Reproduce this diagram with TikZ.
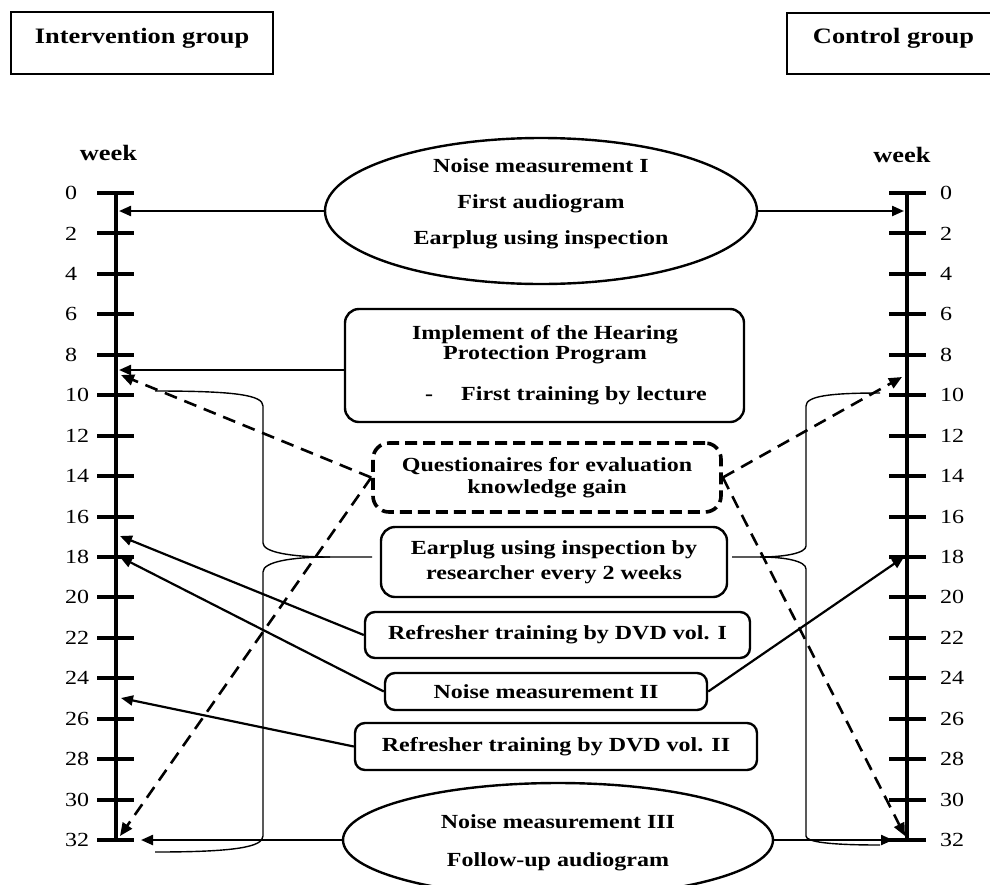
\documentclass[tikz,border=0pt]{standalone}
\usepackage{fontspec}
\setmainfont{Liberation Serif}[FakeStretch=1.2]
\usetikzlibrary{arrows.meta,shapes.geometric}
\begin{document}
\begin{tikzpicture}[x=1pt,y=-1pt,
  txt/.style={font=\fontsize{20}{22}\selectfont\bfseries, inner sep=0pt, align=center},
  bigtxt/.style={font=\fontsize{22}{24}\selectfont\bfseries, inner sep=0pt, align=center},
  num/.style={font=\fontsize{20}{22}\selectfont, inner sep=0pt, anchor=west},
  axisline/.style={line width=4.5pt},
  tickline/.style={line width=4pt},
  rbox/.style={draw, line width=2.4pt, rounded corners=14pt, inner sep=0pt},
  qbox/.style={draw, line width=3.6pt, rounded corners=16pt, dash pattern=on 12pt off 6pt, inner sep=0pt},
  gbox/.style={draw, line width=2.4pt, inner sep=0pt},
  oval/.style={draw, ellipse, line width=2.4pt, inner sep=0pt},
  arr/.style={line width=2.2pt, -{Triangle[length=12pt,width=10pt]}},
  darr/.style={line width=2.6pt, dash pattern=on 13pt off 8pt, -{Triangle[length=13pt,width=11pt]}},
  brace/.style={line width=1.4pt},
]
\useasboundingbox (0,0) rectangle (990,884);

% group boxes
\node[gbox, bigtxt, minimum width=262, minimum height=62, text height=15pt, text depth=15pt] (igb) at (142,43) {Intervention group};
\node[gbox, bigtxt, minimum width=213, minimum height=61, text height=15pt, text depth=15pt] (cgb) at (893.5,43.5) {Control group};

% week labels
\node[bigtxt] (wkL) at (108.5,153) {week};
\node[bigtxt] (wkR) at (902,155) {week};

% axes
\coordinate (Ltop) at (116,193); \coordinate (Lbot) at (116,840);
\coordinate (Rtop) at (907,193); \coordinate (Rbot) at (907,840);
\draw[axisline] (Ltop) -- (Lbot);
\draw[axisline] (Rtop) -- (Rbot);
\foreach \w in {0,2,...,32}{
  \draw[tickline] (97,{193+20.22*\w}) -- (134,{193+20.22*\w});
  \node[num] (ln\w) at (65,{193+20.22*\w}) {\w};
  \draw[tickline] (889,{193+20.22*\w}) -- (926,{193+20.22*\w});
  \node[num] (rn\w) at (940,{193+20.22*\w}) {\w};
}

% braces
\coordinate (lbtop) at (155,391);
\coordinate (lbtip) at (330,557);
\coordinate (lbend) at (372,557);
\coordinate (lbbot) at (155,852);
\draw[brace] (lbtop) .. controls (235,391) and (263,395) .. (263,406) -- (263,543)
  .. controls (263,552) and (290,557) .. (lbtip) -- (lbend);
\draw[brace] (lbtip) .. controls (290,557) and (263,562) .. (263,572) -- (263,836)
  .. controls (263,847) and (235,852) .. (lbbot);
\coordinate (rbtop) at (880,393);
\coordinate (rbtip) at (760,557);
\coordinate (rbend) at (732,557);
\coordinate (rbbot) at (880,845);
\draw[brace] (rbtop) .. controls (830,393) and (806,396) .. (806,406) -- (806,546)
  .. controls (806,553) and (785,557) .. (rbtip) -- (rbend);
\draw[brace] (rbtip) .. controls (785,557) and (806,561) .. (806,569) -- (806,836)
  .. controls (806,842) and (830,845) .. (rbbot);

% nodes
\node[oval, minimum width=432, minimum height=146] (e1) at (541,211) {};
\node[txt, font=\fontsize{20}{36}\selectfont\bfseries] (e1t) at (541,204) {Noise measurement I\\First audiogram\\Earplug using inspection};

\node[rbox, minimum width=399, minimum height=113] (imp) at (544.5,365.5) {};
\node[txt, font=\fontsize{20}{20}\selectfont\bfseries] (impt) at (545,345) {Implement of the Hearing\\Protection Program};
\node[txt, anchor=base west] (impd) at (425,400) {-};
\node[txt, anchor=base west] (impf) at (461,400) {First training by lecture};

\node[qbox, txt, minimum width=348, minimum height=69] (q) at (547,477.5) {Questionaires for evaluation\\knowledge gain};
\node[rbox, txt, font=\fontsize{20}{25}\selectfont\bfseries, minimum width=346, minimum height=70] (ep) at (554,562) {Earplug using inspection by\\researcher every 2 weeks};
\node[rbox, txt, rounded corners=10pt, minimum width=385, minimum height=46] (r1) at (557.5,635) {Refresher training by DVD vol. I};
\node[rbox, txt, rounded corners=10pt, minimum width=322, minimum height=37] (n2) at (546,691.5) {Noise measurement II};
\node[rbox, txt, rounded corners=10pt, minimum width=402, minimum height=47] (r2) at (556,746.5) {Refresher training by DVD vol. II};

\node[oval, minimum width=430, minimum height=114] (e3) at (558,840) {};
\node[txt, font=\fontsize{20}{38}\selectfont\bfseries] (e3t) at (558,843) {Noise measurement III\\Follow-up audiogram};

% connectors
\coordinate (La) at (119,211); \coordinate (Ra) at (904,211);
\draw[arr] (e1.west) -- (La);
\draw[arr] (e1.east) -- (Ra);
\coordinate (Lb) at (119,370);
\draw[arr] ([yshift=-4.5pt]imp.west) -- (Lb);

\coordinate (Ld1) at (121,375); \coordinate (Ld2) at (120,836);
\coordinate (Rd1) at (902,377); \coordinate (Rd2) at (905,836);
\draw[darr] (q.west) -- (Ld1);
\draw[darr] (q.west) -- (Ld2);
\draw[darr] (q.east) -- (Rd1);
\draw[darr] (q.east) -- (Rd2);

\coordinate (Lr1) at (120,536);
\coordinate (Ln2) at (120,557);
\coordinate (Rn2) at (904,557);
\coordinate (Lr2) at (121,698);
\coordinate (Le3) at (141,840);
\coordinate (Re3) at (893,840);
\draw[arr] (r1.west) -- (Lr1);
\draw[arr] (n2.west) -- (Ln2);
\draw[arr] (n2.east) -- (Rn2);
\draw[arr] (r2.west) -- (Lr2);
\draw[arr] (e3.west) -- (Le3);
\draw[arr] (e3.east) -- (Re3);
\end{tikzpicture}
\end{document}
